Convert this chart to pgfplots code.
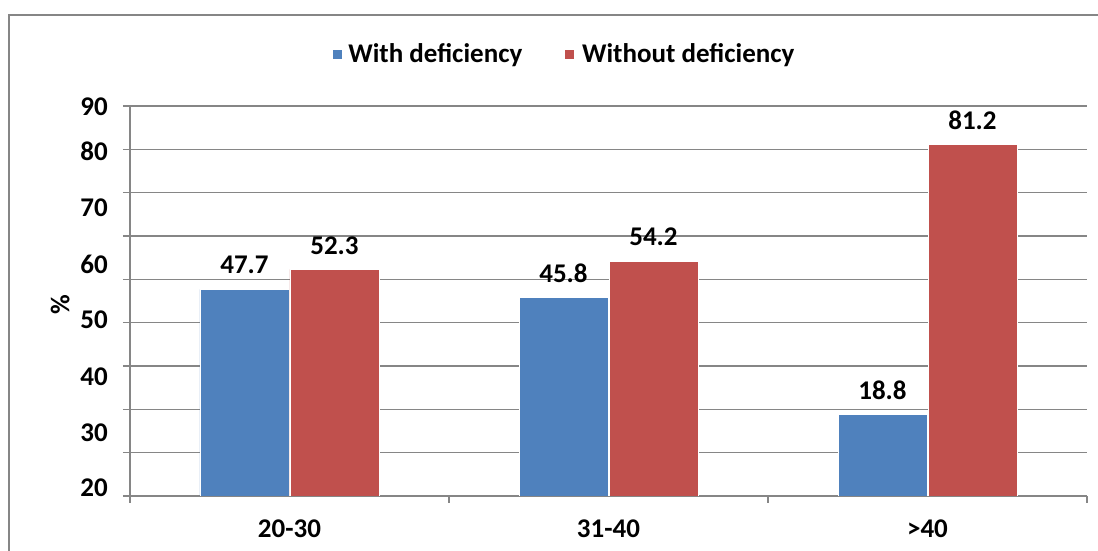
\documentclass[border=0pt]{standalone}
\usepackage{pgfplots}
\pgfplotsset{compat=1.18}
\usepackage{fontspec}
\setmainfont{Carlito}
\definecolor{bblue}{HTML}{4F81BD}
\definecolor{bred}{HTML}{C0504D}
\definecolor{gline}{RGB}{134,134,134}
\newcommand{\ff}{\fontsize{27}{32}\selectfont\bfseries}
\begin{document}
\begin{tikzpicture}[font=\ff]
\begin{axis}[
  at={(0pt,0pt)}, anchor=south west,
  width=957pt, height=390pt, scale only axis,
  xmin=-0.5, xmax=2.5, ymin=0, ymax=90,
  ybar, bar width=89pt,
  axis line style={gline, line width=1.3pt},
  axis x line*=bottom, axis y line*=left,
  major tick length=7pt, tick align=outside,
  tick style={gline, line width=1.3pt},
  xtick={-0.5,0.5,1.5,2.5}, xticklabels={},
  extra x ticks={0,1,2}, extra x tick labels={20-30,31-40,>40},
  extra x tick style={major tick length=0pt, grid=none, xticklabel style={yshift=-20pt}},
  ytick={0,10,...,90}, yticklabels={},
  ymajorgrids, grid style={gline, line width=1.3pt},
  extra y ticks={89.9,79.5,66.6,53.5,40.6,27.6,14.5,1.8},
  extra y tick labels={90,80,70,60,50,40,30,20},
  extra y tick style={grid=none, major tick length=0pt, yticklabel style={inner sep=0pt, xshift=-22pt}},
  ylabel={\%}, ylabel style={at={(axis description cs:-0.073,0.49)}, anchor=center, rotate=0},
  /pgf/number format/assume math mode=true,
  ticklabel style={font=\ff},
  nodes near coords,
  nodes near coords style={font=\ff, anchor=center, yshift=24pt, /pgf/number format/.cd, fixed, precision=1, fixed zerofill},
  legend style={at={(0.4535,1.1333)}, anchor=center, draw=none, legend columns=2,
    /tikz/every even column/.append style={column sep=40pt}, font=\ff},
  legend image code/.code={\fill[#1] (0pt,-5pt) rectangle (10pt,5pt);},
]
\addplot[fill=bblue, draw=white, line width=0.8pt, bar shift=-45pt] coordinates {(0,47.7) (1,45.8) (2,18.8)};
\addplot[fill=bred, draw=white, line width=0.8pt, bar shift=45pt] coordinates {(0,52.3) (1,54.2) (2,81.2)};
\legend{\hspace{4pt}With deficiency, \hspace{5pt}Without deficiency}
\end{axis}
\draw[gline, line width=2pt] (-120.5pt,-60pt) -- (-120.5pt,481.3pt) -- (975pt,481.3pt);
\pgfresetboundingbox
\path[use as bounding box] (-130pt,-55pt) rectangle (968pt,496pt);
\end{tikzpicture}
\end{document}
